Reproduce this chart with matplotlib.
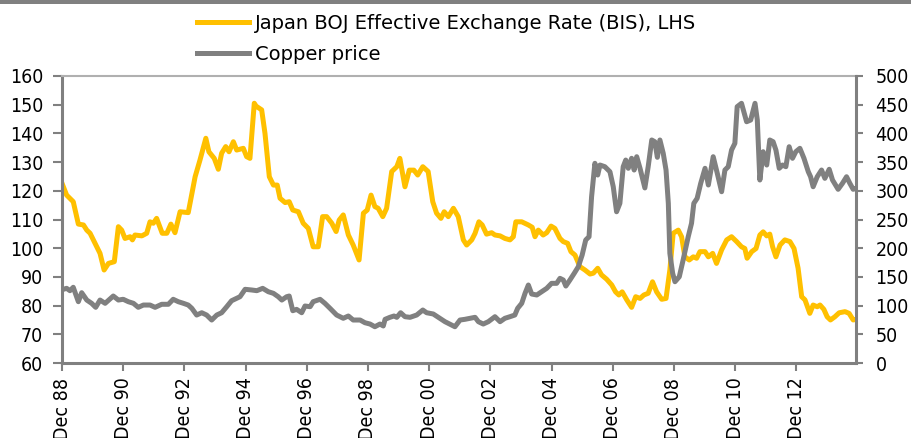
import matplotlib
matplotlib.use("Agg")
import matplotlib.pyplot as plt
from matplotlib.patches import Rectangle

# months since Dec 1988
jpy_months = [0, 1.8, 4.4, 6.4, 8.4, 9.7, 11.0, 13.6, 14.9, 16.5, 18.2, 20.5, 22.1, 23.4,
              24.7, 26.7, 27.6, 28.6, 31.3, 33.2, 34.5, 35.8, 37.1, 39.3, 41.1, 42.7, 44.3,
              46.3, 49.5, 52.2, 54.1, 56.4, 57.6, 59.7, 61.3, 62.6, 64.2, 65.5, 67.2, 68.5,
              71.1, 72.4, 73.7, 75.4, 76.1, 78.3, 79.6, 81.3, 82.9, 84.4, 85.5, 87.5, 89.1,
              90.5, 92.7, 94.6, 96.6, 98.5, 100.5, 102.2, 103.8, 105.8, 107.5, 108.7, 110.3,
              112.3, 114.2, 116.5, 118.2, 119.7, 121.2, 122.7, 124.0, 125.8, 127.3, 129.3,
              131.3, 132.5, 134.5, 136.2, 138.0, 139.5, 141.5, 143.6, 145.4, 146.9, 148.6,
              149.9, 151.5, 153.5, 155.4, 157.4, 158.7, 160.7, 162.0, 163.5, 164.8, 166.5,
              168.5, 169.8, 171.8, 173.7, 175.7, 177.0, 178.0, 180.3, 182.9, 184.4, 185.5,
              186.8, 188.7, 190.1, 191.8, 193.3, 195.3, 196.6, 198.3, 199.6, 201.2, 203.1,
              205.1, 207.1, 208.4, 210.1, 211.6, 213.6, 215.6, 217.1, 218.4, 219.7, 221.5,
              223.4, 225.0, 226.7, 228.2, 229.9, 231.6, 233.2, 235.2, 236.9, 238.4, 239.7,
              241.7, 243.0, 244.3, 246.0, 247.6, 248.9, 250.2, 252.2, 253.5, 255.2, 256.7,
              258.7, 260.7, 262.6, 264.6, 266.5, 267.8, 268.7, 270.5, 272.2, 273.7, 275.0,
              276.4, 277.6, 278.7, 280.0, 281.6, 283.5, 285.5, 287.1, 288.7, 290.1, 291.4,
              293.3, 294.6, 296.2, 297.3, 298.8, 300.1, 301.4, 303.1, 304.8, 307.1, 308.7,
              310.3, 311.4]
jpy_eer = [122.6, 118.5, 116.2, 108.4, 108.1, 106.3, 105.2, 100.5, 98.2, 92.4, 94.7, 95.3, 107.5, 106.3,
           103.4, 104.0, 102.9, 104.6, 104.3, 105.2, 109.2, 108.7, 110.4, 105.2, 105.2, 108.4, 105.4,
           112.7, 112.4, 124.9, 130.7, 138.3, 133.6, 131.3, 127.5, 133.1, 135.4, 133.6, 137.1, 134.2,
           134.8, 131.9, 131.3, 150.5, 149.5, 148.2, 140.0, 124.9, 122.0, 122.0, 117.4, 115.9, 116.2,
           113.3, 112.7, 108.7, 106.9, 100.5, 100.5, 111.0, 111.0, 108.7, 105.8, 109.8, 111.6,
           104.6, 101.1, 95.9, 112.2, 113.3, 118.5, 114.5, 113.9, 111.0, 113.9, 126.7,
           128.4, 131.3, 121.4, 127.2, 127.2, 125.5, 128.4, 126.7, 116.2, 112.2, 110.4,
           112.7, 111.0, 113.9, 111.0, 102.9, 101.1, 102.9, 105.2, 109.2, 108.1, 104.9,
           105.4, 104.6, 104.3, 103.4, 102.9, 104.0, 109.2, 109.2, 108.1, 107.3, 104.0,
           106.3, 104.6, 105.4, 107.7, 106.9, 103.4, 102.3, 101.7, 98.8, 97.6, 93.6,
           92.4, 91.0, 91.3, 93.0, 90.7, 89.2, 87.2, 84.8, 83.7, 84.8, 82.0,
           79.4, 83.1, 82.5, 83.7, 84.3, 88.3, 84.8, 82.2, 82.5, 92.4, 105.2,
           106.3, 104.0, 97.0, 95.9, 97.0, 96.5, 98.8, 98.8, 97.0, 98.2, 94.7,
           99.4, 102.9, 104.0, 102.3, 100.5, 99.9, 96.5, 98.8, 99.9, 104.6, 105.7,
           104.3, 104.9, 100.5, 97.0, 101.1, 102.9, 102.3, 99.9, 93.0, 83.1, 82.0,
           77.3, 80.2, 79.6, 80.2, 78.7, 76.1, 75.0, 76.1, 77.5, 77.9, 77.3,
           75.0, 75.2]

cu_months = [0, 1.8, 3.1, 4.4, 6.4, 7.7, 9.7, 11.6, 13.2, 14.9, 16.9, 20.1, 22.1, 24.0, 26.0,
             28.0, 29.9, 31.9, 34.5, 36.5, 39.1, 41.7, 43.6, 45.6, 47.6, 49.5, 50.9, 52.8,
             54.8, 56.7, 58.7, 60.7, 62.6, 64.6, 66.5, 68.5, 69.8, 71.8, 74.4, 76.4, 78.7,
             80.9, 82.9, 84.8, 86.2, 88.1, 89.1, 90.5, 92.0, 94.0, 95.3, 97.3, 98.5, 101.2,
             103.1, 105.1, 107.7, 110.3, 112.3, 114.2, 116.9, 118.8, 120.8, 122.7, 124.7,
             126.0, 126.7, 128.6, 130.2, 131.3, 132.8, 134.5, 136.5, 139.1, 141.5, 143.0,
             145.6, 148.2, 150.2, 152.9, 154.1, 156.1, 158.0, 160.0, 162.0, 163.3, 165.2,
             167.2, 169.8, 171.8, 173.7, 175.7, 177.6, 178.7, 180.3, 181.6, 182.9, 184.2,
             186.2, 188.1, 190.1, 192.0, 194.0, 195.3, 196.6, 197.6, 199.2, 200.9, 202.5,
             204.0, 205.4, 206.7, 207.7, 209.0, 210.1, 211.0, 212.9, 214.9, 216.2, 217.5,
             218.8, 220.1, 221.1, 222.1, 223.4, 224.4, 225.4, 226.7, 228.6, 229.9, 231.3,
             232.5, 233.5, 234.5, 235.8, 236.9, 237.8, 238.4, 239.5, 240.4, 242.1, 243.6,
             245.6, 246.9, 247.8, 249.1, 250.5, 252.2, 253.5, 255.4, 257.0, 258.7, 260.0,
             261.3, 262.6, 263.9, 264.8, 266.5, 268.5, 270.1, 271.8, 272.7, 273.7, 275.0,
             276.4, 277.6, 278.9, 280.0, 281.3, 282.6, 283.9, 285.2, 286.5, 287.8, 289.4,
             291.0, 292.7, 293.6, 294.6, 296.2, 297.9, 299.2, 300.9, 302.2, 304.4, 306.1,
             307.7, 309.0, 310.3, 311.4]
cu_price = [127.7, 130.1, 126, 131.9, 106.8, 122.5, 109.7, 104, 97, 109.7, 104, 116.7, 109.7, 111, 106.8,
            104, 97, 101, 101, 97, 102.3, 102.3, 111, 106.8, 104, 101, 95.3, 83.6,
            87.6, 83.6, 74.9, 83.6, 87.6, 98.1, 108.5, 112.7, 115.5, 128.4, 127.2, 126, 130.1,
            124.2, 121.4, 115.5, 109.7, 115.5, 116.7, 91.1, 93.5, 87.6, 99.3, 98.1, 106.8, 111,
            104, 95.3, 83.6, 77.9, 81.9, 74.9, 74.9, 70.2, 67.9, 63.2, 67.9,
            64.5, 76.1, 79.6, 81.9, 79.6, 87.6, 80.7, 79.6, 83.6, 92.3, 87.6,
            85.4, 77.9, 72, 66, 63.2, 74.9, 76.1, 77.9, 79.6, 72, 67.9,
            72, 80.7, 72, 77.9, 80.7, 83.6, 95.3, 104, 121.4, 135.9, 120.2,
            118.5, 124.2, 130.1, 138.8, 138.8, 147.5, 144.6, 134.1, 144.6, 156.3, 167.8,
            188.1, 214.3, 220, 289.7, 347.9, 327.5, 344.9, 342, 333.2, 307.1, 263.5,
            278.2, 342, 353.6, 339.2, 356.6, 336.2, 359.4, 339.2, 305, 342, 388.5,
            385.5, 358.3, 388.5, 365.3, 336.2, 278.2, 191.1, 156.3, 141.6, 150.3, 179.4,
            220, 243.4, 278.2, 286.9, 313, 339.2, 310.1, 359.4, 330.5, 298.4, 336.2,
            342, 371, 382.7, 446.5, 452.4, 420.3, 423.3, 452.4, 423.3, 318.8, 368.1,
            344.9, 388.5, 385.5, 371, 339.2, 344.9, 342, 376.8, 356.6, 368.1, 374,
            356.6, 333.2, 324.5, 307.1, 324.5, 336.2, 321.7, 337.5, 318.8, 302.6, 313,
            324.5, 313, 302.6, 304.3]

tick_months = [0, 24, 48, 72, 96, 120, 144, 168, 192, 216, 240, 264, 288]
tick_labels = ["Dec 88", "Dec 90", "Dec 92", "Dec 94", "Dec 96", "Dec 98", "Dec 00",
               "Dec 02", "Dec 04", "Dec 06", "Dec 08", "Dec 10", "Dec 12"]

yellow = "#FFC000"
grey = "#808080"
plt.rcParams["font.family"] = "DejaVu Sans"
plt.rcParams["font.stretch"] = "condensed"

fig = plt.figure(figsize=(9.11, 4.38), dpi=100)
ax1 = fig.add_axes([0.0681, 0.1712, 0.8715, 0.6553])
ax2 = ax1.twinx()

l1, = ax1.plot(jpy_months, jpy_eer, color=yellow, lw=3.6, solid_joinstyle="round",
               label="Japan BOJ Effective Exchange Rate (BIS), LHS")
l2, = ax2.plot(cu_months, cu_price, color=grey, lw=3.6, solid_joinstyle="round",
               label="Copper price")

ax1.set_xlim(0, 311.4)
ax1.set_ylim(60, 160)
ax2.set_ylim(0, 500)
ax1.set_yticks(range(60, 161, 10))
ax2.set_yticks(range(0, 501, 50))
ax1.set_xticks(tick_months)
ax1.set_xticklabels(tick_labels, rotation=90)

for ax in (ax1, ax2):
    for s in ax.spines.values():
        s.set_visible(False)
ax1.spines["left"].set_visible(True)
ax1.spines["bottom"].set_visible(True)
ax1.spines["top"].set_visible(True)
ax2.spines["right"].set_visible(True)
for s in (ax1.spines["left"], ax1.spines["bottom"], ax2.spines["right"]):
    s.set_color(grey)
    s.set_linewidth(2.2)
ax1.spines["top"].set_color("#b0b0b0")
ax1.spines["top"].set_linewidth(1.5)

ax1.tick_params(axis="y", length=6.5, width=1.5, color=grey, pad=7, labelsize=14)
ax2.tick_params(axis="y", length=5, width=1.5, color=grey, pad=9, labelsize=14)
ax1.tick_params(axis="x", length=5.5, width=1.5, color=grey, pad=5, labelsize=14)

fig.add_artist(Rectangle((0, 1 - 4 / 438), 1, 4 / 438, transform=fig.transFigure,
                         color=grey, lw=0))

fig.legend([l1, l2], [l1.get_label(), l2.get_label()], loc="upper left",
           bbox_to_anchor=(0.216, 0.968), frameon=False, borderpad=0, borderaxespad=0,
           handlelength=2.7, handletextpad=0.27, labelspacing=0.62,
           prop={"family": "DejaVu Sans", "stretch": "normal", "size": 14})

fig.savefig("out.png", dpi=100)
plt.close(fig)
